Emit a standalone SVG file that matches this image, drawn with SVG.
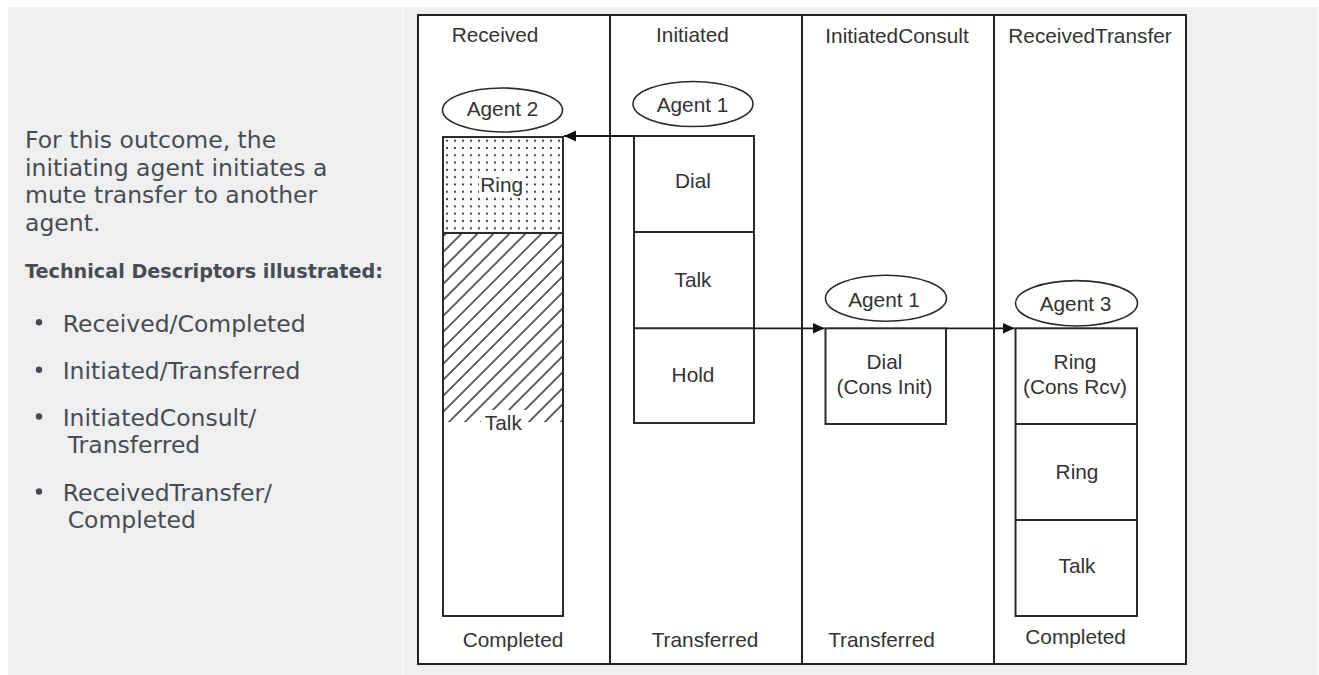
<svg xmlns="http://www.w3.org/2000/svg" width="1319" height="675" viewBox="0 0 1319 675">
<style>
.body{font-family:"DejaVu Sans",sans-serif;font-size:23.5px;fill:#474c54}
.bold{font-family:"DejaVu Sans",sans-serif;font-size:19.2px;font-weight:bold;fill:#474c54}
.lbl{font-family:"Liberation Sans",Arial,sans-serif;font-size:20.8px;fill:#333;text-anchor:middle}
.box{fill:none;stroke:#2a2a2a;stroke-width:2}
.ell{fill:#fff;stroke:#2a2a2a;stroke-width:1.6}
.div{stroke:#222;stroke-width:2}
.conn{stroke:#1a1a1a;stroke-width:1.8;fill:none}
</style>
<defs>
<marker id="arr" markerUnits="userSpaceOnUse" markerWidth="13" markerHeight="12" refX="12" refY="6" orient="auto">
<path d="M0,0.5 L12,6 L0,11.5 Z" fill="#111"/>
</marker>
<pattern id="dots" patternUnits="userSpaceOnUse" x="443" y="137" width="8" height="7.3">
<circle cx="4" cy="3.6" r="1.15" fill="#444"/>
</pattern>
<pattern id="hatch" patternUnits="userSpaceOnUse" width="11.3" height="11.3" patternTransform="rotate(45)">
<line x1="5.65" y1="0" x2="5.65" y2="11.3" stroke="#2a2a2a" stroke-width="1.5"/>
</pattern>
</defs>

<rect width="1319" height="675" fill="#fff"/>
<rect x="8" y="7" width="1310" height="668" fill="#efefef"/>
<line x1="402.5" y1="7" x2="402.5" y2="675" stroke="#f6f7f9" stroke-width="2"/>

<g id="description">
<text class="body" x="25" y="148">For this outcome, the</text>
<text class="body" x="25" y="175.5">initiating agent initiates a</text>
<text class="body" x="25" y="203">mute transfer to another</text>
<text class="body" x="25" y="231">agent.</text>
<text class="bold" x="25" y="277.7">Technical Descriptors illustrated:</text>
<circle cx="39" cy="322.3" r="3.2" fill="#474c54"/>
<text class="body" x="62.7" y="331.7">Received/Completed</text>
<circle cx="39" cy="369.8" r="3.2" fill="#474c54"/>
<text class="body" x="62.7" y="379.3">Initiated/Transferred</text>
<circle cx="39" cy="416.5" r="3.2" fill="#474c54"/>
<text class="body" x="62.7" y="426">InitiatedConsult/</text>
<text class="body" x="67.7" y="453.3">Transferred</text>
<circle cx="39" cy="491.5" r="3.2" fill="#474c54"/>
<text class="body" x="62.7" y="501">ReceivedTransfer/</text>
<text class="body" x="67.7" y="528.3">Completed</text>
</g>

<g id="frame">
<rect x="418" y="15" width="768" height="649" fill="#fff" stroke="#222" stroke-width="2"/>
<line class="div" x1="610" y1="15" x2="610" y2="664"/>
<line class="div" x1="802" y1="15" x2="802" y2="664"/>
<line class="div" x1="994" y1="15" x2="994" y2="664"/>
<text class="lbl" x="495" y="42">Received</text>
<text class="lbl" x="692.5" y="42">Initiated</text>
<text class="lbl" x="897" y="43">InitiatedConsult</text>
<text class="lbl" x="1090" y="43">ReceivedTransfer</text>
<text class="lbl" x="513" y="647">Completed</text>
<text class="lbl" x="705" y="647">Transferred</text>
<text class="lbl" x="881.5" y="647">Transferred</text>
<text class="lbl" x="1075.6" y="644">Completed</text>
</g>

<g id="received">
<ellipse class="ell" cx="502.5" cy="110" rx="60" ry="22"/>
<text class="lbl" x="502.5" y="116">Agent 2</text>
<rect x="443" y="137" width="120" height="96" fill="url(#dots)"/>
<rect x="443" y="233" width="120" height="189" fill="url(#hatch)"/>
<rect x="479" y="174" width="46" height="22" fill="#fff"/>
<text class="lbl" x="501.7" y="192">Ring</text>
<rect x="481" y="410" width="46" height="23" fill="#fff"/>
<text class="lbl" x="503.3" y="430">Talk</text>
<line class="box" x1="443" y1="233" x2="563" y2="233"/>
<rect class="box" x="443" y="137" width="120" height="479"/>
</g>

<g id="initiated">
<ellipse class="ell" cx="693" cy="104" rx="60" ry="22.5"/>
<text class="lbl" x="692.5" y="111.7">Agent 1</text>
<rect class="box" x="634" y="136" width="120" height="287"/>
<line class="box" x1="634" y1="232" x2="754" y2="232"/>
<line class="box" x1="634" y1="328.3" x2="754" y2="328.3"/>
<text class="lbl" x="693" y="188">Dial</text>
<text class="lbl" x="693" y="286.7">Talk</text>
<text class="lbl" x="693" y="382.3">Hold</text>
</g>

<g id="initiatedconsult">
<ellipse class="ell" cx="886" cy="298.3" rx="60.5" ry="23"/>
<text class="lbl" x="884" y="306.7">Agent 1</text>
<rect class="box" x="825.5" y="328.3" width="120.5" height="95.7"/>
<text class="lbl" x="884.5" y="369.3">Dial</text>
<text class="lbl" x="884.5" y="394">(Cons Init)</text>
</g>

<g id="receivedtransfer">
<ellipse class="ell" cx="1076.5" cy="303.3" rx="61" ry="22.7"/>
<text class="lbl" x="1075.5" y="310.7">Agent 3</text>
<rect class="box" x="1015.5" y="328.3" width="121.5" height="287.7"/>
<line class="box" x1="1015.5" y1="424" x2="1137" y2="424"/>
<line class="box" x1="1015.5" y1="520" x2="1137" y2="520"/>
<text class="lbl" x="1075" y="369.3">Ring</text>
<text class="lbl" x="1075" y="394">(Cons Rcv)</text>
<text class="lbl" x="1077" y="479">Ring</text>
<text class="lbl" x="1077" y="573.3">Talk</text>
</g>

<g id="connectors">
<line class="conn" x1="634" y1="136" x2="564" y2="136" marker-end="url(#arr)"/>
<line class="conn" x1="754" y1="328.3" x2="824.5" y2="328.3" marker-end="url(#arr)"/>
<line class="conn" x1="946" y1="328.3" x2="1014.5" y2="328.3" marker-end="url(#arr)"/>
</g>
</svg>
